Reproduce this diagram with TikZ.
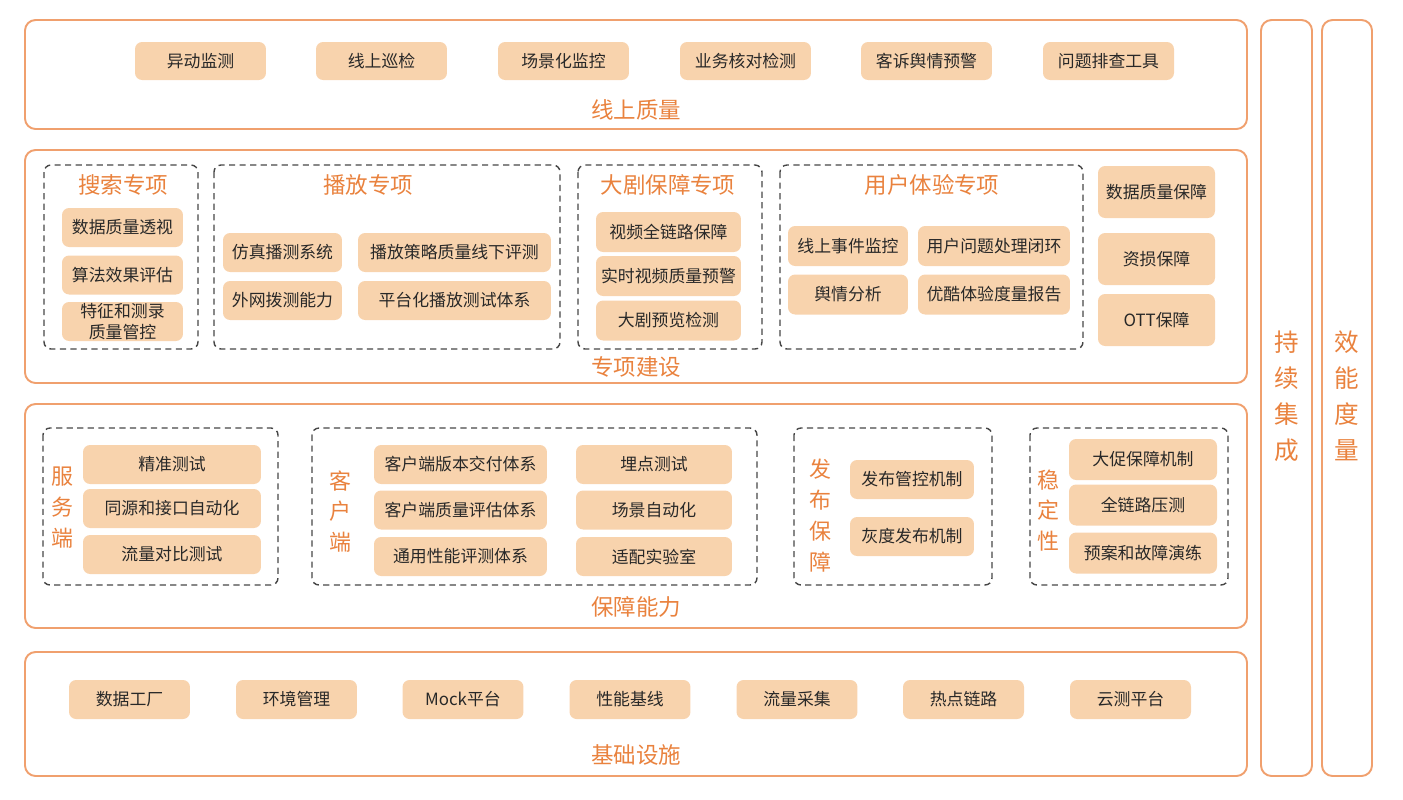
\documentclass[tikz,border=0pt]{standalone}
\usepackage{fontspec}
\setmainfont{Noto Sans CJK SC}
\usepackage{xcolor}
\usepackage{tikz}
\usetikzlibrary{positioning, calc}

\definecolor{layerline}{RGB}{240,160,110}
\definecolor{itemfill}{RGB}{248,211,173}
\definecolor{titleor}{RGB}{233,130,62}
\definecolor{dashgray}{RGB}{70,70,70}
\definecolor{itemtext}{RGB}{40,40,40}

\begin{document}
\begin{tikzpicture}[x=0.02cm, y=-0.02cm,
  layer/.style={draw=layerline, line width=1.1pt, rounded corners=6pt},
  group/.style={draw=dashgray, line width=0.8pt, dash pattern=on 3.5pt off 2.5pt, rounded corners=4pt},
  item/.style={fill=itemfill, rounded corners=4pt, text=itemtext, inner sep=0pt,
    font=\fontsize{9.6}{11.5}\selectfont, align=center},
  title/.style={text=titleor, font=\fontsize{12.8}{14}\selectfont},
  vtitle/.style={text=titleor, font=\fontsize{12.5}{17.5}\selectfont, align=center}]
  \useasboundingbox (0,0) rectangle (1403,799);

  % layers
  \draw[layer] (25,20) rectangle (1247,129);
  \draw[layer] (25,150) rectangle (1247,383);
  \draw[layer] (25,404) rectangle (1247,628);
  \draw[layer] (25,652) rectangle (1247,776);
  \draw[layer] (1261,20) rectangle (1312,776);
  \draw[layer] (1322,20) rectangle (1372,776);

  % 线上质量
  \node[item, minimum width=2.62cm, minimum height=0.76cm] (xs1) at (200.5,61) {异动监测};
  \node[item, minimum width=2.62cm, minimum height=0.76cm] (xs2) at (381.5,61) {线上巡检};
  \node[item, minimum width=2.62cm, minimum height=0.76cm] (xs3) at (563.5,61) {场景化监控};
  \node[item, minimum width=2.62cm, minimum height=0.76cm] (xs4) at (745.5,61) {业务核对检测};
  \node[item, minimum width=2.62cm, minimum height=0.76cm] (xs5) at (926.5,61) {客诉舆情预警};
  \node[item, minimum width=2.62cm, minimum height=0.76cm] (xs6) at (1108.5,61) {问题排查工具};
  \node[title] (xszl) at (636,110) {线上质量};

  % 专项建设
  \draw[group] (44,165) rectangle (198,349);
  \node[title] (sszx) at (123,185) {搜索专项};
  \node[item, minimum width=2.42cm, minimum height=0.78cm] (ss1) at (122.5,227.5) {数据质量透视};
  \node[item, minimum width=2.42cm, minimum height=0.78cm] (ss2) at (122.5,275) {算法效果评估};
  \node[item, minimum width=2.42cm, minimum height=0.78cm, font=\fontsize{9.6}{11.5}\selectfont] (ss3) at (122.5,321.5) {特征和测录\\质量管控};

  \draw[group] (214,165) rectangle (560,349);
  \node[title] (bfzx) at (368,185) {播放专项};
  \node[item, minimum width=2.38cm, minimum height=0.78cm] (bf1) at (282.5,252.5) {仿真播测系统};
  \node[item, minimum width=2.38cm, minimum height=0.78cm] (bf2) at (282.5,300.5) {外网拨测能力};
  \node[item, minimum width=3.86cm, minimum height=0.78cm] (bf3) at (454.5,252.5) {播放策略质量线下评测};
  \node[item, minimum width=3.86cm, minimum height=0.78cm] (bf4) at (454.5,300.5) {平台化播放测试体系};

  \draw[group] (578,165) rectangle (762,349);
  \node[title] (djzx) at (668,185) {大剧保障专项};
  \node[item, minimum width=2.9cm, minimum height=0.8cm] (dj1) at (668.5,232) {视频全链路保障};
  \node[item, minimum width=2.9cm, minimum height=0.8cm] (dj2) at (668.5,276) {实时视频质量预警};
  \node[item, minimum width=2.9cm, minimum height=0.8cm] (dj3) at (668.5,320.5) {大剧预览检测};

  \draw[group] (780,165) rectangle (1083,349);
  \node[title] (tyzx) at (932,185) {用户体验专项};
  \node[item, minimum width=2.4cm, minimum height=0.8cm] (ty1) at (848,246) {线上事件监控};
  \node[item, minimum width=2.4cm, minimum height=0.8cm] (ty2) at (848,294.5) {舆情分析};
  \node[item, minimum width=3.04cm, minimum height=0.8cm] (ty3) at (994,246) {用户问题处理闭环};
  \node[item, minimum width=3.04cm, minimum height=0.8cm] (ty4) at (994,294.5) {优酷体验度量报告};

  \node[item, minimum width=2.34cm, minimum height=1.04cm] (bz1) at (1156.5,192) {数据质量保障};
  \node[item, minimum width=2.34cm, minimum height=1.04cm] (bz2) at (1156.5,259) {资损保障};
  \node[item, minimum width=2.34cm, minimum height=1.04cm] (bz3) at (1156.5,320) {OTT保障};
  \node[title] (zxjs) at (636,367) {专项建设};

  % 保障能力
  \draw[group] (43,428) rectangle (278,585);
  \node[vtitle] (fwd) at (62,507.5) {服\\务\\端};
  \node[item, minimum width=3.56cm, minimum height=0.78cm] (fw1) at (172,464.5) {精准测试};
  \node[item, minimum width=3.56cm, minimum height=0.78cm] (fw2) at (172,508.5) {同源和接口自动化};
  \node[item, minimum width=3.56cm, minimum height=0.78cm] (fw3) at (172,554.5) {流量对比测试};

  \draw[group] (312,428) rectangle (757,585);
  \node[vtitle] (khd) at (340,511.5) {客\\户\\端};
  \node[item, minimum width=3.46cm, minimum height=0.78cm] (kh1) at (460.5,464.5) {客户端版本交付体系};
  \node[item, minimum width=3.46cm, minimum height=0.78cm] (kh2) at (460.5,510) {客户端质量评估体系};
  \node[item, minimum width=3.46cm, minimum height=0.78cm] (kh3) at (460.5,556.5) {通用性能评测体系};
  \node[item, minimum width=3.12cm, minimum height=0.78cm] (kh4) at (654,464.5) {埋点测试};
  \node[item, minimum width=3.12cm, minimum height=0.78cm] (kh5) at (654,510) {场景自动化};
  \node[item, minimum width=3.12cm, minimum height=0.78cm] (kh6) at (654,556.5) {适配实验室};

  \draw[group] (794,428) rectangle (992,585);
  \node[vtitle] (fbbz) at (820,515.5) {发\\布\\保\\障};
  \node[item, minimum width=2.48cm, minimum height=0.78cm] (fb1) at (912,479.5) {发布管控机制};
  \node[item, minimum width=2.48cm, minimum height=0.78cm] (fb2) at (912,536.5) {灰度发布机制};

  \draw[group] (1030,428) rectangle (1228,585);
  \node[vtitle] (wdx) at (1048,510.5) {稳\\定\\性};
  \node[item, minimum width=2.96cm, minimum height=0.82cm] (wd1) at (1143,459.5) {大促保障机制};
  \node[item, minimum width=2.96cm, minimum height=0.82cm] (wd2) at (1143,505) {全链路压测};
  \node[item, minimum width=2.96cm, minimum height=0.82cm] (wd3) at (1143,553) {预案和故障演练};
  \node[title] (bznl) at (636,607) {保障能力};

  % 基础设施
  \node[item, minimum width=2.42cm, minimum height=0.78cm] (jc1) at (129.5,699.5) {数据工厂};
  \node[item, minimum width=2.42cm, minimum height=0.78cm] (jc2) at (296.5,699.5) {环境管理};
  \node[item, minimum width=2.42cm, minimum height=0.78cm] (jc3) at (463,699.5) {Mock平台};
  \node[item, minimum width=2.42cm, minimum height=0.78cm] (jc4) at (630,699.5) {性能基线};
  \node[item, minimum width=2.42cm, minimum height=0.78cm] (jc5) at (797,699.5) {流量采集};
  \node[item, minimum width=2.42cm, minimum height=0.78cm] (jc6) at (963.5,699.5) {热点链路};
  \node[item, minimum width=2.42cm, minimum height=0.78cm] (jc7) at (1130.5,699.5) {云测平台};
  \node[title] (jcss) at (636,755) {基础设施};

  % 右侧
  \node[vtitle, font=\fontsize{14}{20.5}\selectfont] (cxjc) at (1286.5,396) {持\\续\\集\\成};
  \node[vtitle, font=\fontsize{14}{20.5}\selectfont] (xndl) at (1347,396) {效\\能\\度\\量};
\end{tikzpicture}
\end{document}
